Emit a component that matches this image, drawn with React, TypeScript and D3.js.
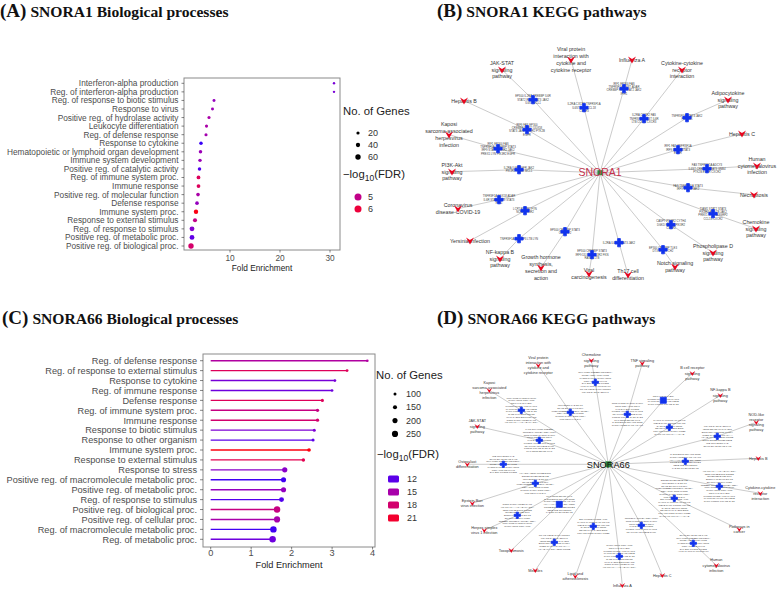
import React from "react";
import * as d3 from "d3";

// ---------- Panel A: SNORA1 biological processes ----------
const aTerms = [
  "Interferon-alpha production",
  "Reg. of interferon-alpha production",
  "Reg. of response to biotic stimulus",
  "Response to virus",
  "Positive reg. of hydrolase activity",
  "Leukocyte differentiation",
  "Reg. of defense response",
  "Response to cytokine",
  "Hematopoietic or lymphoid organ development",
  "Immune system development",
  "Positive reg. of catalytic activity",
  "Reg. of immune system proc.",
  "Immune response",
  "Positive reg. of molecular function",
  "Defense response",
  "Immune system proc.",
  "Response to external stimulus",
  "Reg. of response to stimulus",
  "Positive reg. of metabolic proc.",
  "Positive reg. of biological proc.",
];
const aFold = [30.8, 30.8, 6.8, 6.5, 5.8, 5.3, 5.2, 4.2, 4.1, 4.0, 3.9, 3.7, 3.7, 3.6, 3.4, 3.2, 3.0, 2.4, 2.4, 2.2];
const aGenes = [5, 5, 15, 15, 18, 18, 18, 25, 25, 25, 25, 30, 30, 28, 28, 42, 36, 50, 50, 60];
const aFdr = [4.0, 4.0, 4.3, 4.4, 4.6, 4.6, 4.5, 3.6, 4.4, 4.4, 3.7, 5.6, 5.6, 4.6, 4.3, 6.4, 5.0, 4.1, 3.8, 5.4];
const aXTicks = [10, 20, 30];
const aSizeLegend = [20, 40, 60];
const aColorLegend = [5, 6];

// ---------- Panel C: SNORA66 biological processes ----------
const cTerms = [
  "Reg. of defense response",
  "Reg. of response to external stimulus",
  "Response to cytokine",
  "Reg. of immune response",
  "Defense response",
  "Reg. of immune system proc.",
  "Immune response",
  "Response to biotic stimulus",
  "Response to other organism",
  "Immune system proc.",
  "Response to external stimulus",
  "Response to stress",
  "Positive reg. of macromolecule metabolic proc.",
  "Positive reg. of metabolic proc.",
  "Reg. of response to stimulus",
  "Positive reg. of biological proc.",
  "Positive reg. of cellular proc.",
  "Reg. of macromolecule metabolic proc.",
  "Reg. of metabolic proc.",
];
const cFold = [3.87, 3.37, 3.07, 3.0, 2.76, 2.64, 2.64, 2.56, 2.53, 2.43, 2.29, 1.83, 1.8, 1.8, 1.75, 1.64, 1.64, 1.55, 1.53];
const cGenes = [80, 90, 85, 80, 100, 110, 110, 100, 100, 130, 120, 205, 200, 200, 190, 260, 250, 265, 265];
const cFdr = [15.5, 19, 12.8, 12.5, 19, 17, 18, 13, 12, 22, 19.5, 13.5, 11.5, 14, 11.8, 17, 15, 11.5, 12.5];
const cXTicks = [0, 1, 2, 3, 4];
const cSizeLegend = [100, 150, 200, 250];
const cColorLegend = [12, 15, 18, 21];

// ---------- Panel B: SNORA1 KEGG network (layout coords relative to hub) ----------
const bLabels = [
  ["JAK-STAT", "signaling", "pathway"],
  ["Viral protein", "interaction with", "cytokine and", "cytokine receptor"],
  ["Influenza A"],
  ["Cytokine-cytokine", "receptor", "interaction"],
  ["Adipocytokine", "signaling", "pathway"],
  ["Hepatitis C"],
  ["Human", "cytomegalovirus", "infection"],
  ["Necroptosis"],
  ["Chemokine", "signaling", "pathway"],
  ["Phospholipase D", "signaling", "pathway"],
  ["Notch signaling", "pathway"],
  ["Th17 cell", "differentiation"],
  ["Viral", "carcinogenesis"],
  ["Growth hormone", "synthesis,", "secretion and", "action"],
  ["NF-kappa B", "signaling", "pathway"],
  ["Yersinia infection"],
  ["Coronavirus", "disease-COVID-19"],
  ["PI3K-Akt", "signaling", "pathway"],
  ["Kaposi", "sarcoma-associated", "herpesvirus", "infection"],
  ["Hepatitis B"],
];
const bPathX = [-98, -29, 32, 82, 128, 142, 157, 154, 156, 113, 75, 28, -11, -59, -100, -130, -142, -148, -151, -136];
const bPathY = [-103, -113, -113, -103, -73, -39, -7, 22, 56, 80, 94, 102, 101, 95, 86, 68, 36, -1, -38, -72];
const bGeneX = [-67, -16, 24, 44, 87, 78, 107, 88, 113, 71, 63, 19, -8, -35, -81, -75, -101, -81, -102, -73];
const bGeneY = [-73, -65, -84, -54, -55, -23, -4, 15, 41, 52, 77, 70, 82, 59, 66, 38, 27, -3, -24, -43];
const bGeneText = [
  ["EP300 IL2RA CREBBP IL6R", "STAT2 IRF9 STAT3 JAK2", "IL6ST MCL1"],
  ["IL2RA CXCR2 TNFRSF1A", "IL6ST IL6R CCL18", "CXCR3"],
  ["IRF1 EP300 FAS", "TNFRSF1A IL6ST ADAR", "CREBBP IRF9 STAT2 JAK2", "IFIH1"],
  ["IL2RA CXCR2 FAS", "TNFRSF1A IL6ST IL6R", "LTB CCL18 CXCR3"],
  ["TNFRSF1A STAT3 JAK2", "PRKAB1"],
  ["IRF1 FAS TNFRSF1A", "IRF9 STAT2 STAT3", "EGFR"],
  ["FAS TNFRSF1A ADCY3", "IL6ST CREBBP STAT3 GNB4", "PTK2B EGFR CXCR2"],
  ["FAS TNFRSF1A STAT3", "IRF9 STAT2 JAK2"],
  ["TIAM1 STAT2 STAT3", "PIK3R2 PRKCB JAK2", "PREX1 LYN RASGRP2", "CCL18 CXCR2"],
  ["CASP7 PIK3R2 CYTH4", "DGKD PTK2B PIK3R2", "CXCR2"],
  ["EP300 CREBBP TLE3", "DTX3L NOTCH2"],
  ["IL2RA IL6ST STAT3 JAK2"],
  ["EP300 CREBBP STAT3", "IRF9 DDX3X PIK3R2 FKN", "RASA1 LTB"],
  ["EP300 CREBBP STAT3", "CREB3L2"],
  ["TNFRSF1A TNFAIP3 LTB LYN"],
  ["LCP2 PIK3R2 FYN", "NCF4 PIK3R2"],
  ["TNFRSF1A DDX58 ADAR", "IL6R STAT2 IRF9 STAT3", "IFIH1"],
  ["IL2RA IL6R EGFR JAK2", "PIK3R2 ITGB3 MCL1"],
  ["IRF1 EP300 FAS", "TNFRSF1A CREBBP STAT3", "IRF9 STAT2 PIK3R2 JAK2", "PREX1 LYN PIK3R2 EGFR"],
  ["IRF9 FAS EP300", "CREBBP STAT2 DDX58", "STAT3 JAK2 PIK3R2 PTK2B", "EGFR"],
];

// ---------- Panel D: SNORA66 KEGG network ----------
const dLabels = [
  ["Viral protein", "interaction with", "cytokine and", "cytokine receptor"],
  ["Chemokine", "signaling", "pathway"],
  ["TNF signaling", "pathway"],
  ["B cell receptor", "signaling", "pathway"],
  ["NF-kappa B", "signaling", "pathway"],
  ["NOD-like", "receptor", "signaling", "pathway"],
  ["Hepatitis B"],
  ["Cytokine-cytokine", "receptor", "interaction"],
  ["Pathways in", "cancer"],
  ["Human", "cytomegalovirus", "infection"],
  ["Hepatitis C"],
  ["Influenza A"],
  ["Lipid and", "atherosclerosis"],
  ["Measles"],
  ["Toxoplasmosis"],
  ["Herpes simplex", "virus 1 infection"],
  ["Epstein-Barr", "virus infection"],
  ["Osteoclast", "differentiation"],
  ["JAK-STAT", "signaling", "pathway"],
  ["Kaposi", "sarcoma-associated", "herpesvirus", "infection"],
];
const dPathX = [-70, -17, 34, 84, 112, 148, 150, 152, 131, 108, 54, 14, -33, -73, -97, -124, -136, -141, -131, -119];
const dPathY = [-99, -104, -101, -91, -69, -42, -6, 29, 65, 101, 111, 121, 112, 106, 86, 66, 39, 0, -38, -74];
const dGeneX = [-38, -13, 19, 55, 61, 109, 77, 111, 66, 85, 33, 11, -15, -54, -49, -91, -73, -105, -69, -87];
const dGeneY = [-52, -82, -50, -64, -37, -28, -3, 22, 34, 79, 61, 92, 62, 78, 40, 51, 19, 0, -24, -54];
const dGeneShape = ["cross", "cross", "cross", "square", "cross", "cross", "cross", "cross", "cross", "cross", "cross", "cross", "cross", "cross", "square", "cross", "cross", "cross", "cross", "cross"];
const dGeneLines = [6, 8, 9, 4, 6, 8, 6, 12, 14, 7, 6, 9, 6, 6, 7, 9, 8, 7, 9, 10];
const dGenePool = [
  "IRF1", "EP300", "FAS", "STAT1", "STAT2", "STAT3", "JAK2", "IRF9", "IL6ST", "CREBBP",
  "TNFRSF1A", "NFKBIA", "RELA", "TLR4", "TLR2", "MYD88", "CXCL10", "CXCL9", "CCL5", "IL2RA",
  "IL6R", "CD40", "LYN", "SYK", "BTK", "PIK3CD", "PIK3R2", "AKT1", "MAPK1", "MAPK3",
  "TRAF6", "TRAF3", "IKBKB", "CHUK", "IFNGR1", "IFNAR2", "OAS1", "OAS2", "MX1", "ISG15",
  "DDX58", "IFIH1", "CASP8", "BCL2", "TNFAIP3", "CCR5", "CXCR4", "ITGB2", "ICAM1", "VCAM1",
  "HLA-A", "HLA-B", "HLA-DRA", "CD86", "PTK2B", "EGFR", "SOCS3", "NFKB2", "RELB", "LTB",
];

// ---------- colours / helpers ----------
const grayText = "#4d4d4d";
const edgeColor = "#a8a8a8";
const nodeRed = "#e8061f";
const nodeBlue = "#1133ee";
const hubGreen = "#2f8a3c";

const vPath = (s: number) =>
  `M${-s},${-0.8 * s}L0,${-0.15 * s}L${s},${-0.8 * s}L0,${0.95 * s}Z`;

function Lines({ x, y, lines, size, lh, fill = "#333" }: any) {
  const y0 = y - ((lines.length - 1) / 2) * lh + size * 0.35;
  return (
    <text x={x} y={y0} fontSize={size} fill={fill} textAnchor="middle">
      {lines.map((l: string, i: number) => (
        <tspan key={i} x={x} dy={i === 0 ? 0 : lh}>
          {l}
        </tspan>
      ))}
    </text>
  );
}

function Network({ cx, cy, hub, hubColor, hubSize, hubBox, labels, px, py, gx, gy, geneLines, shapes, vSize, labelSize, labelLh, geneSize, geneLh, crossSize, squareSize }: any) {
  const x = d3.scaleLinear().domain([-200, 200]).range([cx - 200, cx + 200]);
  const y = d3.scaleLinear().domain([-200, 200]).range([cy - 200, cy + 200]);
  const cross = d3.symbol(d3.symbolCross, crossSize)() as string;
  const square = d3.symbol(d3.symbolSquare, squareSize)() as string;
  return (
    <g>
      {labels.map((_: any, i: number) => (
        <path
          key={"e" + i}
          d={`M${x(0)},${y(0)}L${x(gx[i])},${y(gy[i])}L${x(px[i])},${y(py[i])}`}
          fill="none"
          stroke={edgeColor}
          strokeWidth={0.6}
        />
      ))}
      {labels.map((_: any, i: number) => (
        <g key={"g" + i}>
          <Lines x={x(gx[i])} y={y(gy[i])} lines={geneLines[i]} size={geneSize} lh={geneLh} fill="#444" />
          <path
            d={shapes && shapes[i] === "square" ? square : cross}
            transform={`translate(${x(gx[i])},${y(gy[i])})`}
            fill={nodeBlue}
            stroke={nodeBlue}
            strokeWidth={0.8}
            strokeLinejoin="round"
          />
        </g>
      ))}
      {labels.map((l: string[], i: number) => (
        <g key={"p" + i}>
          <Lines x={x(px[i])} y={y(py[i])} lines={l} size={labelSize} lh={labelLh} />
          <path d={vPath(vSize)} transform={`translate(${x(px[i])},${y(py[i])})`} fill={nodeRed} />
        </g>
      ))}
      <rect x={x(0) - hubBox / 2} y={y(0) - hubBox / 2} width={hubBox} height={hubBox} fill={hubGreen} />
      <text x={x(0)} y={y(0) + hubSize * 0.36} fontSize={hubSize} fill={hubColor} textAnchor="middle">
        {hub}
      </text>
    </g>
  );
}

function Title({ x, y, tag, text }: any) {
  return (
    <text x={x} y={y} fontFamily="'Liberation Serif', 'Times New Roman', serif" fontWeight="bold" fill="#111">
      <tspan fontSize={19}>{tag}</tspan>
      <tspan fontSize={15.6} dx={4}>{text}</tspan>
    </text>
  );
}

function LogTitle({ x, y }: any) {
  return (
    <text x={x} y={y} fontSize={11.3} fill="#222">
      −log
      <tspan fontSize={8.5} dy={3}>10</tspan>
      <tspan dy={-3}>(FDR)</tspan>
    </text>
  );
}

export default function App() {
  // Panel A scales
  const axA = d3.scaleLinear().domain([0.8, 32]).range([184, 340]);
  const ayA = d3.scalePoint<string>().domain(aTerms).range([83.3, 246]);
  const colA = d3.scaleLinear<string>().domain([3.5, 6.5]).range(["blue", "red"]).interpolate(d3.interpolateLab).clamp(true);
  const rA = d3.scaleLinear().domain([5, 90]).range([1.2, 3.5]);

  // Panel C scales
  const axC = d3.scaleLinear().domain([-0.19, 4.06]).range([203, 375]);
  const ayC = d3.scalePoint<string>().domain(cTerms).range([360.7, 539.3]);
  const colC = d3.scaleLinear<string>().domain([11, 22.3]).range(["blue", "red"]).interpolate(d3.interpolateLab).clamp(true);
  const rC = d3.scaleLinear().domain([70, 280]).range([1.2, 3.4]);

  const dGeneText = dGeneLines.map((n, i) =>
    d3.range(n).map((j) =>
      d3.range(4).map((k) => dGenePool[(i * 7 + j * 4 + k) % dGenePool.length]).join(" ")
    )
  );

  return (
    <svg
      width={778}
      height={590}
      style={{ position: "absolute", left: 0, top: 0, background: "#fff" }}
      fontFamily="'Liberation Sans', Arial, sans-serif"
    >
      <rect width={778} height={590} fill="#fff" />

      {/* ---------- A ---------- */}
      <Title x={0} y={17} tag="(A)" text="SNORA1 Biological processes" />
      <rect x={184} y={78} width={156} height={172} fill="none" stroke="#8a8a8a" strokeWidth={1} />
      {aTerms.map((t) => (
        <g key={t}>
          <line x1={181.5} x2={184} y1={ayA(t)} y2={ayA(t)} stroke="#333" strokeWidth={0.6} />
          <text x={178.5} y={(ayA(t) as number) + 3} fontSize={8.3} fill={grayText} textAnchor="end">
            {t}
          </text>
        </g>
      ))}
      {aXTicks.map((v) => (
        <g key={v}>
          <line x1={axA(v)} x2={axA(v)} y1={250} y2={252.5} stroke="#333" strokeWidth={0.6} />
          <text x={axA(v)} y={261} fontSize={8.3} fill={grayText} textAnchor="middle">
            {v}
          </text>
        </g>
      ))}
      <text x={262} y={271} fontSize={8.3} fill="#222" textAnchor="middle">
        Fold Enrichment
      </text>
      {aTerms.map((t, i) => (
        <circle key={t} cx={axA(aFold[i])} cy={ayA(t)} r={rA(aGenes[i])} fill={colA(aFdr[i])} />
      ))}
      <text x={343} y={115} fontSize={11.3} fill="#222">
        No. of Genes
      </text>
      {aSizeLegend.map((v, i) => (
        <g key={v}>
          <circle cx={358} cy={133 + i * 12} r={rA(v)} fill="#000" />
          <text x={368} y={136 + i * 12} fontSize={9} fill="#333">
            {v}
          </text>
        </g>
      ))}
      <LogTitle x={343} y={178} />
      {aColorLegend.map((v, i) => (
        <g key={v}>
          <circle cx={358} cy={197 + i * 12} r={3.5} fill={colA(v)} />
          <text x={368} y={200 + i * 12} fontSize={9} fill="#333">
            {v}
          </text>
        </g>
      ))}

      {/* ---------- C ---------- */}
      <Title x={2} y={324} tag="(C)" text="SNORA66 Biological processes" />
      <rect x={203} y={354} width={172} height={193} fill="none" stroke="#8a8a8a" strokeWidth={1} />
      {cTerms.map((t) => (
        <g key={t}>
          <line x1={200} x2={203} y1={ayC(t)} y2={ayC(t)} stroke="#333" strokeWidth={0.6} />
          <text x={197} y={(ayC(t) as number) + 3.3} fontSize={9.2} fill={grayText} textAnchor="end">
            {t}
          </text>
        </g>
      ))}
      {cXTicks.map((v) => (
        <g key={v}>
          <line x1={axC(v)} x2={axC(v)} y1={547} y2={549.5} stroke="#333" strokeWidth={0.6} />
          <text x={axC(v)} y={556} fontSize={9.2} fill={grayText} textAnchor="middle">
            {v}
          </text>
        </g>
      ))}
      <text x={289} y={567.5} fontSize={9.2} fill="#222" textAnchor="middle">
        Fold Enrichment
      </text>
      {cTerms.map((t, i) => (
        <g key={t}>
          <line x1={axC(0)} x2={axC(cFold[i])} y1={ayC(t)} y2={ayC(t)} stroke={colC(cFdr[i])} strokeWidth={1.4} />
          <circle cx={axC(cFold[i])} cy={ayC(t)} r={rC(cGenes[i])} fill={colC(cFdr[i])} />
        </g>
      ))}
      <text x={376} y={379} fontSize={11.3} fill="#222">
        No. of Genes
      </text>
      {cSizeLegend.map((v, i) => (
        <g key={v}>
          <circle cx={395} cy={394 + i * 13.3} r={rC(v)} fill="#000" />
          <text x={406} y={397 + i * 13.3} fontSize={9} fill="#333">
            {v}
          </text>
        </g>
      ))}
      <LogTitle x={377} y={458} />
      {cColorLegend.map((v, i) => (
        <g key={v}>
          <rect x={388} y={475.5 + i * 13} width={11} height={7} rx={1.5} fill={colC(v)} />
          <text x={407} y={482 + i * 13} fontSize={9} fill="#333">
            {v}
          </text>
        </g>
      ))}

      {/* ---------- B ---------- */}
      <Title x={437} y={17} tag="(B)" text="SNORA1 KEGG pathways" />
      <Network
        cx={600}
        cy={172.7}
        hub="SNORA1"
        hubColor="#c4304c"
        hubSize={10.5}
        hubBox={5}
        labels={bLabels}
        px={bPathX}
        py={bPathY}
        gx={bGeneX}
        gy={bGeneY}
        geneLines={bGeneText}
        vSize={4}
        labelSize={5.3}
        labelLh={6.9}
        geneSize={2.8}
        geneLh={3.4}
        crossSize={38}
        squareSize={40}
      />

      {/* ---------- D ---------- */}
      <Title x={437} y={324} tag="(D)" text="SNORA66 KEGG pathways" />
      <Network
        cx={608.3}
        cy={464.3}
        hub="SNORA66"
        hubColor="#111"
        hubSize={9.2}
        hubBox={6}
        labels={dLabels}
        px={dPathX}
        py={dPathY}
        gx={dGeneX}
        gy={dGeneY}
        geneLines={dGeneText}
        shapes={dGeneShape}
        vSize={2.8}
        labelSize={3.8}
        labelLh={5.2}
        geneSize={2.3}
        geneLh={2.75}
        crossSize={22}
        squareSize={36}
      />
    </svg>
  );
}
